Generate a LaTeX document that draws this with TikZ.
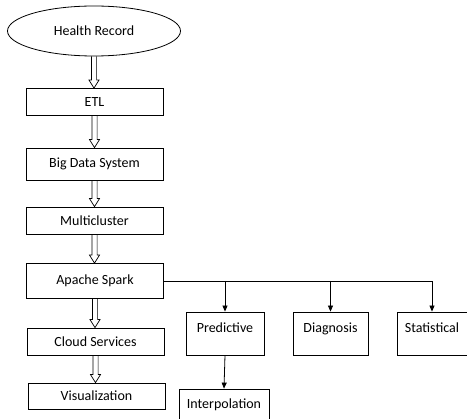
\documentclass[tikz,border=0pt]{standalone}
\usepackage{fontspec}
\setmainfont{Carlito}
\usetikzlibrary{shapes.geometric, arrows.meta, calc}

\newcommand{\hollowarrow}[2]{%
  \draw[line width=0.7pt] let \p1=(#1.south), \p2=(#2.north) in
    (\x1-2.6pt,\y1) -- (\x1-2.6pt,\y2+8pt) -- (\x1-5pt,\y2+8pt) -- (\x1,\y2)
    -- (\x1+5pt,\y2+8pt) -- (\x1+2.6pt,\y2+8pt) -- (\x1+2.6pt,\y1);}

\begin{document}
\begin{tikzpicture}[x=1pt, y=-1pt, line width=0.8pt, font=\fontsize{14}{16}\selectfont,
  stage/.style={draw, rectangle, minimum width=137pt, inner sep=2pt},
  method/.style={draw, rectangle, minimum height=43pt, text depth=11pt, inner sep=2pt},
  tip/.style={-{Triangle[length=6pt, width=5pt]}}]
  \useasboundingbox (0,0) rectangle (467,419);
  \node[draw, ellipse, minimum width=173pt, minimum height=50pt] (record) at (94,31) {Health Record};
  \node[stage, minimum height=27pt] (etl) at (94.5,102) {ETL};
  \node[stage, minimum height=32pt] (bigdata) at (94.5,164) {Big Data System};
  \node[stage, minimum height=27pt] (multi) at (94.5,220.5) {Multicluster};
  \node[stage, minimum height=35pt] (spark) at (95,281) {Apache Spark};
  \node[stage, minimum height=27pt] (cloud) at (95.5,341.5) {Cloud Services};
  \node[stage, minimum height=26pt] (visual) at (96.5,396) {Visualization};
  \node[method, minimum width=78pt] (pred) at (225,333.5) {Predictive};
  \node[method, minimum width=75pt] (diag) at (330.5,333.5) {Diagnosis};
  \node[method, minimum width=70pt] (stat) at (432,333.5) {Statistical};
  \node[draw, rectangle, minimum width=90pt, minimum height=32pt] (interp) at (224,405) {Interpolation};
  % main chain
  \hollowarrow{record}{etl}
  \hollowarrow{etl}{bigdata}
  \hollowarrow{bigdata}{multi}
  \hollowarrow{multi}{spark}
  \hollowarrow{spark}{cloud}
  \hollowarrow{cloud}{visual}
  % analysis branches
  \draw[tip] (spark.east) -| (stat.north);
  \draw[tip] (spark.east -| pred.north) -- (pred.north);
  \draw[tip] (spark.east -| diag.north) -- (diag.north);
  \draw[tip] (pred.south) -- (interp.north);
\end{tikzpicture}
\end{document}
